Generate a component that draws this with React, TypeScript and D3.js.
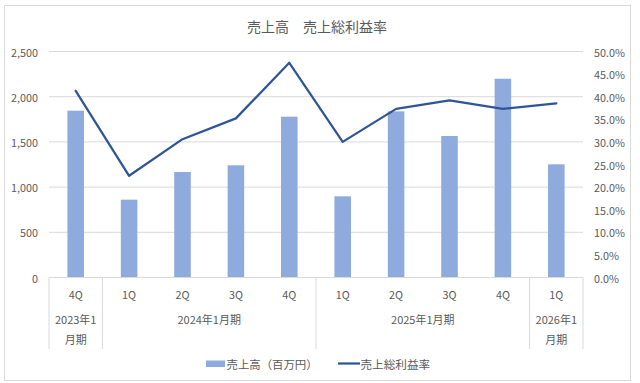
import React from "react";
import * as d3 from "d3";

const quarters = ["4Q", "1Q", "2Q", "3Q", "4Q", "1Q", "2Q", "3Q", "4Q", "1Q"];
const fiscalGroups = [
  { lines: ["2023年1", "月期"], start: 0, end: 1 },
  { lines: ["2024年1月期"], start: 1, end: 5 },
  { lines: ["2025年1月期"], start: 5, end: 9 },
  { lines: ["2026年1", "月期"], start: 9, end: 10 },
];
const sales = [1845, 861, 1167, 1241, 1779, 898, 1838, 1565, 2199, 1252];
const grossMargin = [41.3, 22.5, 30.6, 35.2, 47.5, 30.0, 37.3, 39.2, 37.3, 38.5];
const leftTicks = [0, 500, 1000, 1500, 2000, 2500];
const rightTicks = [0, 5, 10, 15, 20, 25, 30, 35, 40, 45, 50];

const W = 640;
const H = 383;
const plot = { left: 49, right: 583, top: 51.5, bottom: 277.5 };
const FONT = "'Noto Sans CJK JP', 'Noto Sans', sans-serif";
const TXT = "#595959";
const GRID = "#d9d9d9";
const BAR = "#8FAADC";
const LINE = "#2F5597";

export default function App() {
  const idx = quarters.map((_, i) => i);
  const x = d3
    .scaleBand<number>()
    .domain(idx)
    .range([plot.left, plot.right])
    .paddingInner(0.69)
    .paddingOuter(0.345);
  const step = x.step();
  const yL = d3.scaleLinear().domain([0, 2500]).range([plot.bottom, plot.top]);
  const yR = d3.scaleLinear().domain([0, 50]).range([plot.bottom, plot.top]);
  const cx = (i: number) => (x(i) as number) + x.bandwidth() / 2;
  const line = d3
    .line<number>()
    .x((_, i) => cx(i))
    .y((d) => yR(d));
  const edge = (i: number) => plot.left + i * step;
  const fmt = d3.format(",");

  return (
    <svg
      width={W}
      height={H}
      style={{ position: "fixed", left: 0, top: 0, background: "#fff" }}
      fontFamily={FONT}
    >
      <rect x={0} y={0} width={W} height={H} fill="#fff" />
      <rect x={4.5} y={5.5} width={626} height={375} fill="#fff" stroke={GRID} strokeWidth={1} />
      <text x={317} y={26} textAnchor="middle" dominantBaseline="central" fontSize={14} fill={TXT}>
        売上高　売上総利益率
      </text>

      {leftTicks.map((t) => (
        <g key={"l" + t}>
          {t > 0 && (
            <line x1={plot.left} x2={plot.right} y1={yL(t)} y2={yL(t)} stroke={GRID} strokeWidth={1} />
          )}
          <text x={38} y={yL(t)} textAnchor="end" dominantBaseline="central" fontSize={10.8} fill={TXT}>
            {fmt(t)}
          </text>
        </g>
      ))}
      {rightTicks.map((t) => (
        <text key={"r" + t} x={594} y={yR(t)} textAnchor="start" dominantBaseline="central" fontSize={10.8} fill={TXT}>
          {t.toFixed(1) + "%"}
        </text>
      ))}

      {sales.map((v, i) => (
        <rect
          key={"b" + i}
          x={x(i)}
          y={yL(v)}
          width={x.bandwidth()}
          height={yL(0) - yL(v)}
          fill={BAR}
        />
      ))}

      <line x1={plot.left} x2={plot.right} y1={plot.bottom} y2={plot.bottom} stroke={GRID} strokeWidth={1} />
      {[0, 1, 5, 9, 10].map((e) => (
        <line key={"e" + e} x1={edge(e)} x2={edge(e)} y1={plot.bottom} y2={349} stroke={GRID} strokeWidth={1} />
      ))}

      <path d={line(grossMargin) || ""} fill="none" stroke={LINE} strokeWidth={2.25} strokeLinejoin="round" strokeLinecap="round" />

      {quarters.map((q, i) => (
        <text key={"q" + i} x={cx(i)} y={294} textAnchor="middle" dominantBaseline="central" fontSize={10.8} fill={TXT}>
          {q}
        </text>
      ))}
      {fiscalGroups.map((g, gi) => {
        const mid = (edge(g.start) + edge(g.end)) / 2;
        return g.lines.map((ln, li) => (
          <text
            key={"g" + gi + "-" + li}
            x={mid}
            y={319 + li * 19.5}
            textAnchor="middle"
            dominantBaseline="central"
            fontSize={11}
            fill={TXT}
          >
            {ln}
          </text>
        ));
      })}

      <rect x={206} y={360.5} width={19} height={6.5} fill={BAR} />
      <text x={226.5} y={363.5} dominantBaseline="central" fontSize={11.4} fill={TXT}>
        売上高（百万円）
      </text>
      <line x1={338} x2={360} y1={363.5} y2={363.5} stroke={LINE} strokeWidth={2.25} />
      <text x={360.5} y={363.5} dominantBaseline="central" fontSize={11.6} fill={TXT}>
        売上総利益率
      </text>
    </svg>
  );
}
